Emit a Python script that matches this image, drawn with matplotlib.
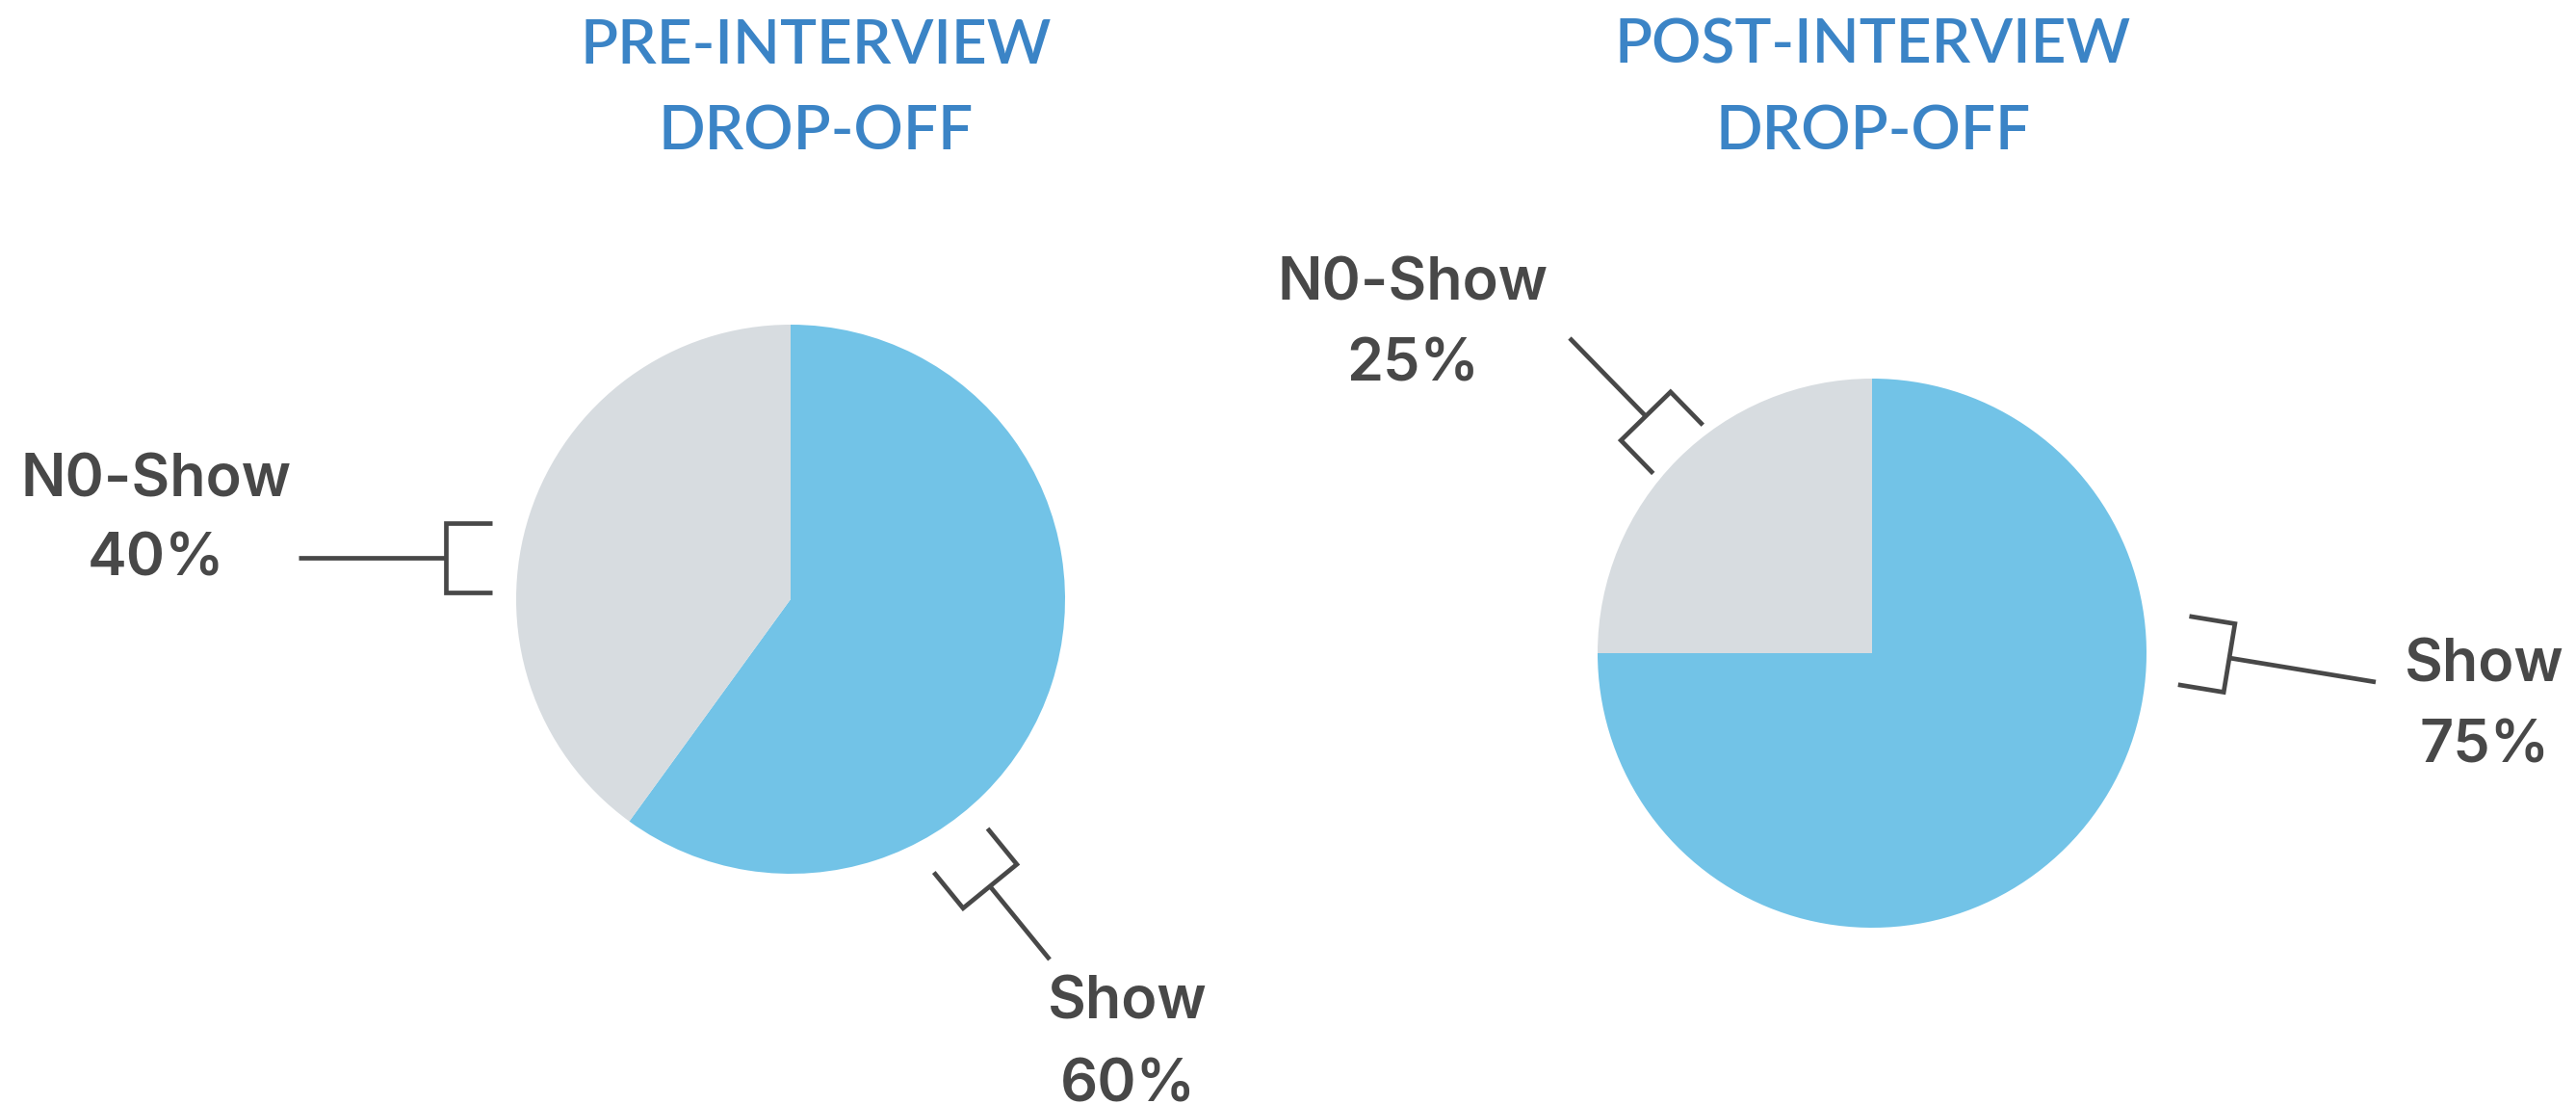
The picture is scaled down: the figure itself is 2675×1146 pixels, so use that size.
import numpy as np
import matplotlib
matplotlib.use("Agg")
import matplotlib.pyplot as plt

W, H = 2675, 1146

titles = ["PRE-INTERVIEW\nDROP-OFF", "POST-INTERVIEW\nDROP-OFF"]
labels = ["Show", "N0-Show"]
pre_vals = [60, 40]
post_vals = [75, 25]

BLUE = "#72C3E7"
GRAY = "#D7DCE0"
TITLE_C = "#3B84C6"
INK = "#484848"

# layout in pixel space (y measured from top)
# leader: bracket middle (mx, my), stem end (ex, ey), label x, baseline of line 1 and line 2
pies = [
    dict(vals=pre_vals, title=titles[0], c=(821, 622), tx=847,
         lead=[(1028, 920, 1090, 996, 1171, 1058, 1143),
               (463, 579, 310, 579, 162, 516, 598)]),
    dict(vals=post_vals, title=titles[1], c=(1944, 678), tx=1945,
         lead=[(2315, 683, 2467, 708, 2580, 708, 792),
               (1709, 432, 1630, 351, 1467, 312, 395)]),
]
R = 285

fig = plt.figure(figsize=(W / 100, H / 100), dpi=100)
ax = fig.add_axes([0, 0, 1, 1])


def bracket(mx, my, ex, ey, half=36, arm=48):
    m = np.array([mx, H - my], float)
    e = np.array([ex, H - ey], float)
    u = (e - m) / np.hypot(*(e - m))
    v = np.array([-u[1], u[0]])
    pts = np.array([m + half * v - arm * u, m + half * v, m - half * v, m - half * v - arm * u])
    ax.plot(pts[:, 0], pts[:, 1], color=INK, lw=3.4, solid_joinstyle="miter", solid_capstyle="butt")
    ax.plot([m[0], e[0]], [m[1], e[1]], color=INK, lw=3.4, solid_capstyle="butt")


for p in pies:
    cx, cy = p["c"][0], H - p["c"][1]
    ax.pie(p["vals"], colors=[BLUE, GRAY], startangle=90, counterclock=False,
           center=(cx, cy), radius=R, wedgeprops=dict(linewidth=0))
    l1, l2 = p["title"].split("\n")
    ax.text(p["tx"], H - 66, l1, color=TITLE_C, fontsize=46, family="Lato", weight="semibold",
            ha="center", va="baseline")
    ax.text(p["tx"], H - 155, l2, color=TITLE_C, fontsize=46, family="Lato", weight="semibold",
            ha="center", va="baseline")
    for (mx, my, ex, ey, x, b1, b2), lab, val in zip(p["lead"], labels, p["vals"]):
        bracket(mx, my, ex, ey)
        ax.text(x, H - b1, lab, color=INK, fontsize=44, family="Inter", weight="semibold",
                ha="center", va="baseline")
        ax.text(x, H - b2, f"{val}%", color=INK, fontsize=44, family="Inter", weight="semibold",
                ha="center", va="baseline")

ax.set_xlim(0, W)
ax.set_ylim(0, H)
ax.set_aspect("equal")
ax.axis("off")
fig.savefig("out.png", dpi=100)
